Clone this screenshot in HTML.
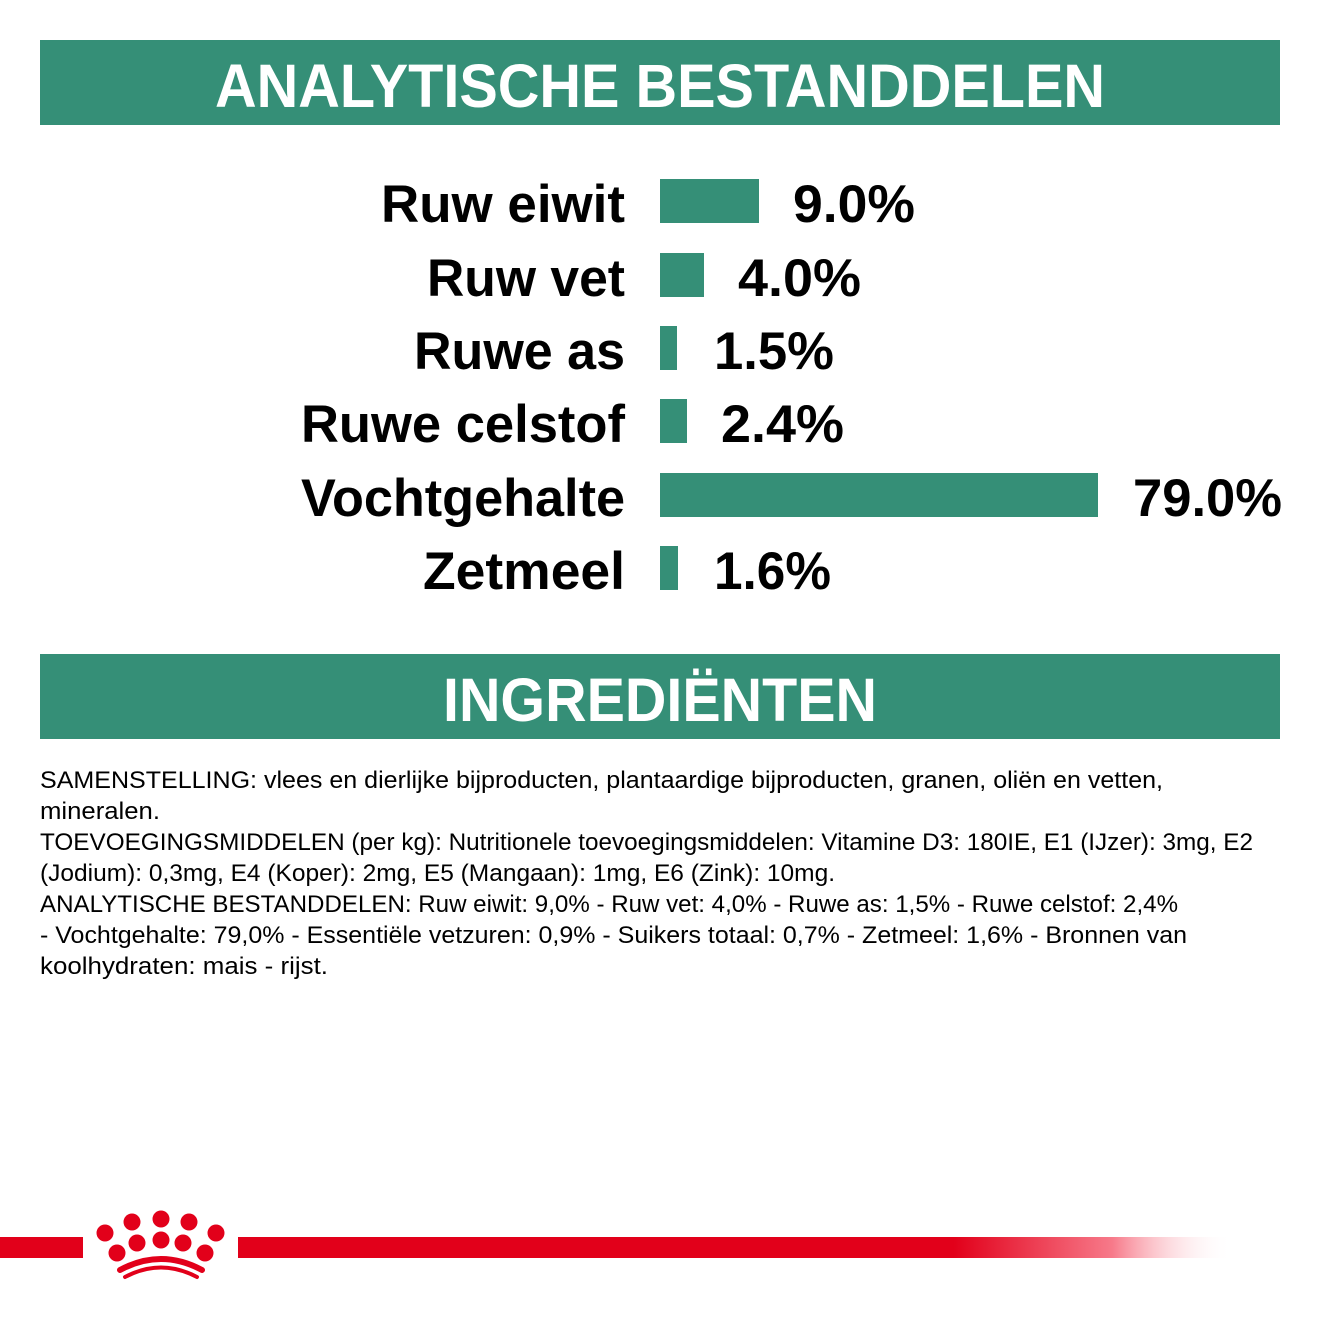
<!DOCTYPE html>
<html><head><meta charset="utf-8"><style>html,body{margin:0;padding:0;background:#fff}svg{display:block}</style></head>
<body>
<svg width="1320" height="1320" viewBox="0 0 1320 1320" xmlns="http://www.w3.org/2000/svg">
<defs>
<linearGradient id="g" x1="238" x2="1232" gradientUnits="userSpaceOnUse">
<stop offset="0" stop-color="#e2001a"/><stop offset="0.72" stop-color="#e2001a"/><stop offset="0.88" stop-color="#f77a8a"/><stop offset="1" stop-color="#fff" stop-opacity="0"/>
</linearGradient>
</defs>
<rect width="1320" height="1320" fill="#fff"/>
<rect x="40" y="40" width="1240" height="85" fill="#358f77"/>
<text x="215" y="107" font-family="Liberation Sans, sans-serif" font-weight="bold" font-size="61" fill="#fff" textLength="890" lengthAdjust="spacingAndGlyphs">ANALYTISCHE BESTANDDELEN</text>
<g font-family="Liberation Sans, sans-serif" font-weight="bold" font-size="53" fill="#000">
<text x="381" y="222" textLength="244" lengthAdjust="spacingAndGlyphs">Ruw eiwit</text>
<text x="427" y="296" textLength="198" lengthAdjust="spacingAndGlyphs">Ruw vet</text>
<text x="414" y="369" textLength="211" lengthAdjust="spacingAndGlyphs">Ruwe as</text>
<text x="301" y="442" textLength="324" lengthAdjust="spacingAndGlyphs">Ruwe celstof</text>
<text x="301" y="516" textLength="324" lengthAdjust="spacingAndGlyphs">Vochtgehalte</text>
<text x="423" y="589" textLength="202" lengthAdjust="spacingAndGlyphs">Zetmeel</text>
<text x="793" y="222" textLength="122" lengthAdjust="spacingAndGlyphs">9.0%</text>
<text x="738" y="296" textLength="123" lengthAdjust="spacingAndGlyphs">4.0%</text>
<text x="714" y="369" textLength="120" lengthAdjust="spacingAndGlyphs">1.5%</text>
<text x="721" y="442" textLength="123" lengthAdjust="spacingAndGlyphs">2.4%</text>
<text x="1133" y="516" textLength="149" lengthAdjust="spacingAndGlyphs">79.0%</text>
<text x="714" y="589" textLength="117" lengthAdjust="spacingAndGlyphs">1.6%</text>
</g>
<g fill="#358f77">
<rect x="660" y="179" width="99" height="44"/>
<rect x="660" y="253" width="44" height="44"/>
<rect x="660" y="326" width="17" height="44"/>
<rect x="660" y="399" width="27" height="44"/>
<rect x="660" y="473" width="438" height="44"/>
<rect x="660" y="546" width="18" height="44"/>
</g>
<rect x="40" y="654" width="1240" height="85" fill="#358f77"/>
<text x="443" y="721" font-family="Liberation Sans, sans-serif" font-weight="bold" font-size="61" fill="#fff" textLength="434" lengthAdjust="spacingAndGlyphs">INGREDIËNTEN</text>
<g font-family="Liberation Sans, sans-serif" font-size="24" fill="#000">
<text x="40" y="788" textLength="1123" lengthAdjust="spacingAndGlyphs">SAMENSTELLING: vlees en dierlijke bijproducten, plantaardige bijproducten, granen, oliën en vetten,</text>
<text x="40" y="819" textLength="120" lengthAdjust="spacingAndGlyphs">mineralen.</text>
<text x="40" y="850" textLength="1213" lengthAdjust="spacingAndGlyphs">TOEVOEGINGSMIDDELEN (per kg): Nutritionele toevoegingsmiddelen: Vitamine D3: 180IE, E1 (IJzer): 3mg, E2</text>
<text x="40" y="881" textLength="795" lengthAdjust="spacingAndGlyphs">(Jodium): 0,3mg, E4 (Koper): 2mg, E5 (Mangaan): 1mg, E6 (Zink): 10mg.</text>
<text x="40" y="912" textLength="1138" lengthAdjust="spacingAndGlyphs">ANALYTISCHE BESTANDDELEN: Ruw eiwit: 9,0% - Ruw vet: 4,0% - Ruwe as: 1,5% - Ruwe celstof: 2,4%</text>
<text x="40" y="943" textLength="1147" lengthAdjust="spacingAndGlyphs">- Vochtgehalte: 79,0% - Essentiële vetzuren: 0,9% - Suikers totaal: 0,7% - Zetmeel: 1,6% - Bronnen van</text>
<text x="40" y="974" textLength="288" lengthAdjust="spacingAndGlyphs">koolhydraten: mais - rijst.</text>
</g>
<rect x="0" y="1237" width="83" height="21" fill="#e2001a"/>
<rect x="238" y="1237" width="994" height="21" fill="url(#g)"/>
<g fill="#e2001a">
<circle cx="132" cy="1222" r="8.5"/><circle cx="161" cy="1219" r="8.5"/><circle cx="189" cy="1222" r="8.5"/>
<circle cx="105" cy="1233" r="8.5"/><circle cx="137" cy="1243" r="8.5"/><circle cx="161" cy="1240" r="8.5"/><circle cx="183" cy="1243" r="8.5"/><circle cx="216" cy="1233" r="8.5"/>
<circle cx="117" cy="1253" r="8.5"/><circle cx="205" cy="1253" r="8.5"/>
</g>
<path d="M120 1270 Q161 1248 202 1270" stroke="#e2001a" stroke-width="6" fill="none" stroke-linecap="round"/>
<path d="M125 1277 Q161 1258 197 1277" stroke="#e2001a" stroke-width="4" fill="none" stroke-linecap="round"/>
</svg>
</body></html>
